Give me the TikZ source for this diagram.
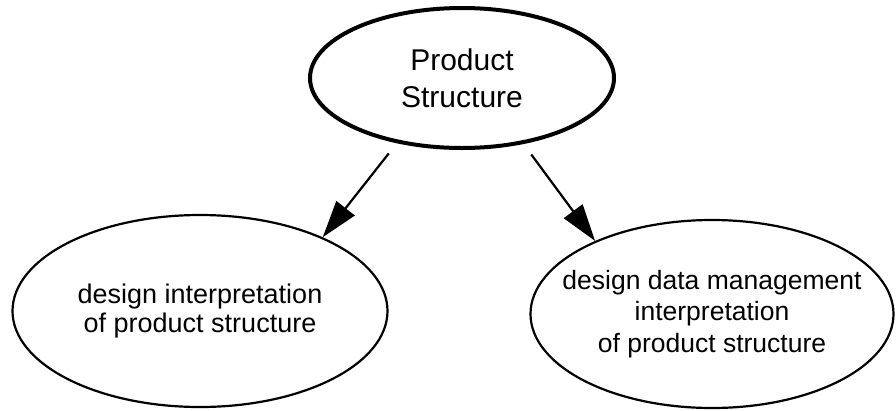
\documentclass[tikz,border=0pt]{standalone}
\usepackage{fontspec}
\setmainfont{Liberation Sans}
\usetikzlibrary{shapes.geometric,arrows.meta}
\begin{document}
\begin{tikzpicture}[x=1pt,y=-1pt,
  ell/.style={ellipse, draw=black, inner sep=0pt, inner xsep=-50pt, align=center},
  arr/.style={line width=2.2pt, -{Triangle[length=37pt,width=23pt]}, shorten <=13pt}]
\useasboundingbox (0,0) rectangle (896,410);
\node[ell, line width=4pt, minimum width=304pt, minimum height=140pt,
      font=\fontsize{30}{37}\selectfont] (top) at (462,78) {Product\\Structure};
\node[ell, line width=2.2pt, minimum width=375pt, minimum height=192pt,
      font=\fontsize{27}{29}\selectfont] (left) at (200,311) {design interpretation\\of product structure};
\node[ell, line width=2.2pt, minimum width=363pt, minimum height=188pt,
      font=\fontsize{26.5}{31.5}\selectfont] (right) at (712,314) {design data management\\interpretation\\of product structure};
\draw[arr] (top.225) -- (left.31);
\draw[arr] (top.313) -- (right.148);
\end{tikzpicture}
\end{document}
